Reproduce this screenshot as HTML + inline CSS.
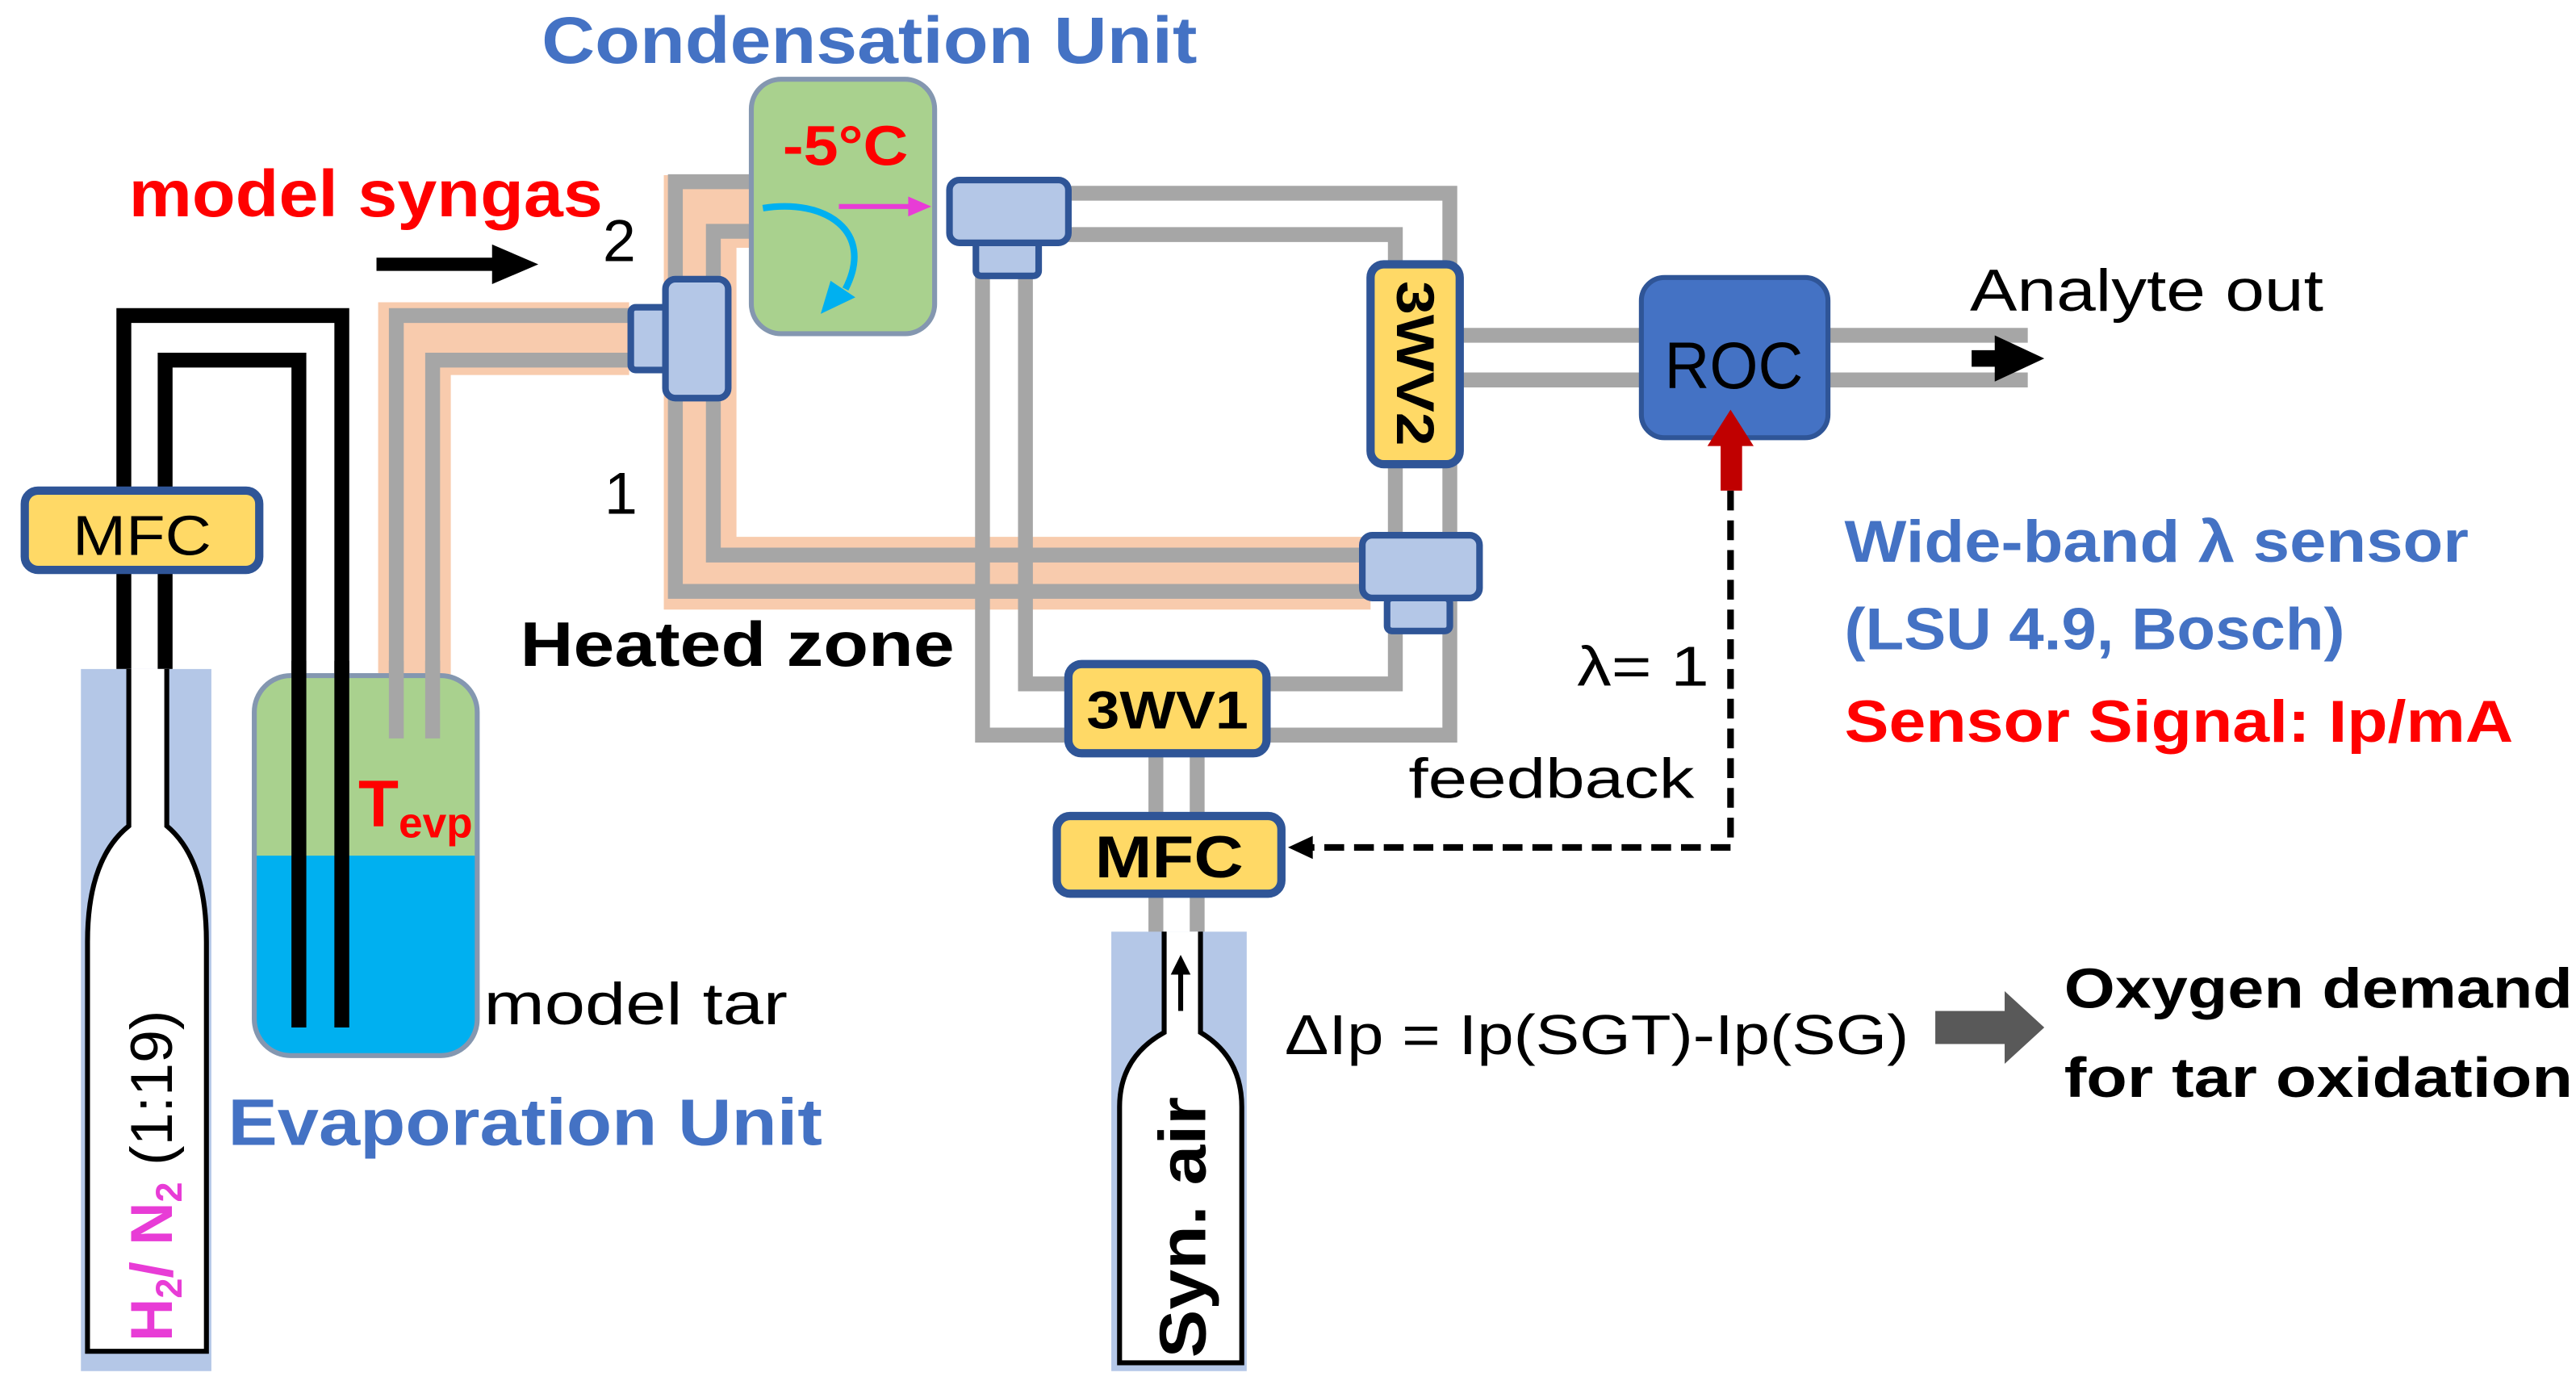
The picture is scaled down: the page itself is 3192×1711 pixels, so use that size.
<!DOCTYPE html>
<html><head><meta charset="utf-8"><style>html,body{margin:0;padding:0;background:#fff}svg{display:block}text{font-family:"Liberation Sans",sans-serif}</style></head><body>
<svg width="3192" height="1711" viewBox="0 0 1560 836" preserveAspectRatio="none" xmlns="http://www.w3.org/2000/svg">
<g fill="none" stroke-linejoin="miter">
<path d="M381,205 H251 V409" stroke="#F8CBAD" stroke-width="44"/>
<path d="M456,128 H424 V347 H830" stroke="#F8CBAD" stroke-width="44"/>
<g stroke="#A6A6A6" stroke-width="9">
<path d="M381,191 H240 V447"/>
<path d="M381,218 H262 V447"/>
<path d="M456,110 H409 V358 H830"/>
<path d="M456,140 H432 V336 H830"/>
<path d="M640,117 H878 V445 H595 V160"/>
<path d="M640,142 H845 V414 H621 V160"/>
<path d="M885,203 H1000 M885,230 H1000"/>
<path d="M1100,203 H1228 M1100,230 H1228"/>
<path d="M700,455 V570 M725,455 V570"/>
</g>
<g stroke="#000" stroke-width="9">
<path d="M75,405 V191 H207 V622"/>
<path d="M100,405 V218 H181 V622"/>
</g>
</g>
<rect x="49" y="405" width="79" height="425" fill="#B4C7E7"/>
<path d="M78,405 V500 Q53,520 53,570 V818 H125 V570 Q125,520 101,500 V405" fill="#fff" stroke="#000" stroke-width="3"/>
<rect x="673" y="564" width="82" height="266" fill="#B4C7E7"/>
<path d="M705,564 V625 Q678,640 678,670 V825 H752 V670 Q752,640 727,625 V564" fill="#fff" stroke="#000" stroke-width="3"/>
<path d="M715,612 V588" stroke="#000" stroke-width="3"/><path d="M709,590 L715,578 L721,590 Z" fill="#000"/>
<rect x="154" y="409" width="135" height="230" rx="22" fill="#A9D18E"/>
<path d="M154,518 H289 V617 Q289,639 267,639 H176 Q154,639 154,617 Z" fill="#00B0F0"/>
<rect x="154" y="409" width="135" height="230" rx="22" fill="none" stroke="#8497B0" stroke-width="3"/>
<g stroke="#000" stroke-width="9"><path d="M181,400 V622 M207,400 V622"/></g>
<g stroke="#A6A6A6" stroke-width="9"><path d="M240,400 V447 M262,400 V447"/></g>
<rect x="455" y="48" width="111" height="154" rx="18" fill="#A9D18E" stroke="#8497B0" stroke-width="3"/>
<path d="M462,126 C500,120 530,140 512,175" fill="none" stroke="#00B0F0" stroke-width="4"/>
<path d="M503,170 L497,190 L518,180 Z" fill="#00B0F0"/>
<path d="M508,125 H552" stroke="#E83CD6" stroke-width="3"/><path d="M550,119 L564,125 L550,131 Z" fill="#E83CD6"/>
<g fill="#B4C7E7" stroke="#2F5597" stroke-width="4">
<rect x="382" y="186" width="22" height="38" rx="3"/>
<rect x="403" y="169" width="38" height="72" rx="6"/>
<rect x="591" y="146" width="38" height="21" rx="3"/>
<rect x="575" y="109" width="72" height="38" rx="6"/>
<rect x="840" y="362" width="38" height="20" rx="3"/>
<rect x="825" y="324" width="71" height="38" rx="6"/>
</g>
<g fill="#FFD966" stroke="#2F5597" stroke-width="5">
<rect x="15" y="297" width="142" height="48" rx="8"/>
<rect x="830" y="160" width="54" height="121" rx="8"/>
<rect x="647" y="402" width="120" height="54" rx="8"/>
<rect x="640" y="494" width="136" height="47" rx="8"/>
</g>
<rect x="994" y="168" width="113" height="97" rx="14" fill="#4472C4" stroke="#2F5597" stroke-width="3"/>
<text x="1050" y="235" font-size="40" text-anchor="middle" textLength="84" lengthAdjust="spacingAndGlyphs">ROC</text>
<rect x="1042" y="268" width="13" height="29" fill="#C00000"/><path d="M1034,270 L1048,248 L1062,270 Z" fill="#C00000"/>
<path d="M1048,297 V513 H790" fill="none" stroke="#000" stroke-width="4" stroke-dasharray="12,6"/>
<path d="M795,506 L780,513 L795,520 Z" fill="#000"/>
<path d="M228,160 H305" stroke="#000" stroke-width="8"/><path d="M298,148 L326,160 L298,172 Z" fill="#000"/>
<path d="M1194,217 H1215" stroke="#000" stroke-width="10"/><path d="M1208,203 L1238,217 L1208,231 Z" fill="#000"/>
<rect x="1172" y="612" width="44" height="20" fill="#595959"/><path d="M1214,600 L1238,622 L1214,644 Z" fill="#595959"/>
<text x="328" y="38" font-size="40" font-weight="bold" fill="#4472C4" textLength="397" lengthAdjust="spacingAndGlyphs">Condensation Unit</text>
<text x="78" y="131" font-size="40" font-weight="bold" fill="#FF0000" textLength="287" lengthAdjust="spacingAndGlyphs">model syngas</text>
<text x="365" y="158" font-size="36">2</text>
<text x="366" y="311" font-size="36">1</text>
<text x="474" y="100" font-size="34" font-weight="bold" fill="#FF0000" textLength="76" lengthAdjust="spacingAndGlyphs">-5°C</text>
<text x="86" y="336" font-size="34" text-anchor="middle" textLength="84" lengthAdjust="spacingAndGlyphs">MFC</text>
<text x="315" y="403" font-size="38" font-weight="bold" textLength="263" lengthAdjust="spacingAndGlyphs">Heated zone</text>
<text x="217" y="500" font-size="40" font-weight="bold" fill="#FF0000">T<tspan font-size="26" dy="7">evp</tspan></text>
<text x="293" y="620" font-size="36" textLength="184" lengthAdjust="spacingAndGlyphs">model tar</text>
<text x="138" y="693" font-size="40" font-weight="bold" fill="#4472C4" textLength="360" lengthAdjust="spacingAndGlyphs">Evaporation Unit</text>
<text transform="translate(104,812) rotate(-90)" font-size="36"><tspan font-weight="bold" fill="#E83CD6">H<tspan font-size="22" dy="6">2</tspan><tspan dy="-6">/ N</tspan><tspan font-size="22" dy="6">2</tspan></tspan><tspan dy="-6"> (1:19)</tspan></text>
<text transform="translate(846,220) rotate(90)" font-size="32" font-weight="bold" text-anchor="middle" textLength="100" lengthAdjust="spacingAndGlyphs">3WV2</text>
<text x="707" y="441" font-size="32" font-weight="bold" text-anchor="middle" textLength="98" lengthAdjust="spacingAndGlyphs">3WV1</text>
<text x="708" y="531" font-size="36" font-weight="bold" text-anchor="middle" textLength="90" lengthAdjust="spacingAndGlyphs">MFC</text>
<text transform="translate(730,822) rotate(-90)" font-size="40" font-weight="bold" textLength="158" lengthAdjust="spacingAndGlyphs">Syn. air</text>
<text x="1193" y="188" font-size="36" textLength="214" lengthAdjust="spacingAndGlyphs">Analyte out</text>
<text x="1117" y="340" font-size="36" font-weight="bold" fill="#4472C4" textLength="378" lengthAdjust="spacingAndGlyphs">Wide-band λ sensor</text>
<text x="1117" y="393" font-size="36" font-weight="bold" fill="#4472C4" textLength="303" lengthAdjust="spacingAndGlyphs">(LSU 4.9, Bosch)</text>
<text x="1117" y="449" font-size="36" font-weight="bold" fill="#FF0000" textLength="405" lengthAdjust="spacingAndGlyphs">Sensor Signal:  Ip/mA</text>
<text x="955" y="415" font-size="34" textLength="80" lengthAdjust="spacingAndGlyphs">λ= 1</text>
<text x="853" y="483" font-size="34" textLength="173" lengthAdjust="spacingAndGlyphs">feedback</text>
<text x="778" y="638" font-size="34" textLength="378" lengthAdjust="spacingAndGlyphs">ΔIp = Ip(SGT)-Ip(SG)</text>
<text x="1250" y="610" font-size="34" font-weight="bold" textLength="308" lengthAdjust="spacingAndGlyphs">Oxygen demand</text>
<text x="1250" y="664" font-size="34" font-weight="bold" textLength="308" lengthAdjust="spacingAndGlyphs">for tar oxidation</text>
</svg>
</body></html>
